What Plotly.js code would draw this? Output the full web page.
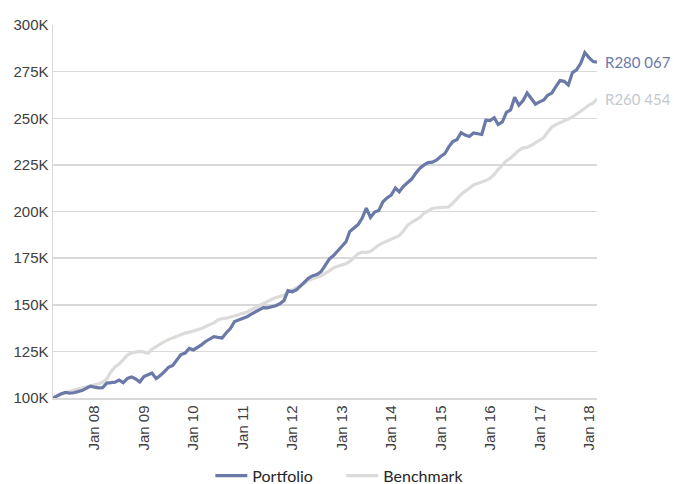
<!DOCTYPE html>
<html>
<head>
<meta charset="utf-8">
<script src="https://cdn.plot.ly/plotly-3.0.1.min.js"></script>
<style>html,body{margin:0;padding:0;background:#fff;}#chart{width:674px;height:484px;}</style>
</head>
<body>
<div id="chart"></div>
<script>
// Monthly series (month-end), first month Feb 2007, last month Feb 2018 (values in R thousands)
const startYear = 2007, startMonth = 2; // February 2007
const seriesNames = ["Portfolio", "Benchmark"];
const portfolio = [
100,101.2,102.3,103.0,102.6,102.8,103.5,104.0,105.2,106.3,105.8,105.4,105.5,108.0,108.2,108.5,109.6,108.2,110.5,111.3,
110.2,108.6,111.5,112.4,113.4,110.4,112.0,114.2,116.4,117.5,120.5,123.3,124.1,126.6,125.8,127.0,128.5,130.3,131.8,132.9,
132.5,132.2,135.0,137.2,141.0,141.8,142.6,143.5,144.8,146.0,147.5,148.5,148.3,148.8,149.5,150.5,152.3,157.6,157.0,158.0,
160.2,162.5,164.3,165.6,166.2,167.8,171.0,174.5,176.4,178.9,181.8,183.8,189.3,191.0,193.0,196.5,201.8,196.8,199.7,200.5,
205.2,207.3,208.8,212.6,210.6,213.5,215.5,217.4,220.5,223.2,225.0,226.2,226.5,227.5,229.5,231.0,234.5,237.5,238.5,242.3,
241.0,240.2,242.1,241.5,241.3,249.0,248.8,250.3,246.6,248.0,253.2,254.5,261.2,257.0,259.5,263.5,260.5,257.6,258.8,259.8,
262.3,263.5,267.0,270.2,269.8,267.8,274.5,275.9,279.5,285.2,282.5,280.4,280.067];
const benchmark = [
100,101.2,102.0,102.8,103.6,104.2,104.8,105.3,105.8,106.4,107.0,107.6,108.4,110.2,114.0,116.6,118.2,120.5,123.0,124.2,
124.6,125.0,124.6,124.0,126.2,127.6,129.2,130.2,131.3,132.2,133.4,134.2,134.8,135.3,135.9,136.5,137.2,138.3,139.2,140.3,
141.8,142.6,142.8,143.3,144.0,144.6,145.4,146.0,147.2,148.4,149.4,150.3,151.6,152.8,153.8,154.6,155.2,156.8,157.9,158.8,
160.2,161.5,163.1,164.0,164.8,165.5,166.8,168.3,169.8,170.6,171.3,172.0,173.2,175.2,177.4,178.2,178.0,178.6,180.5,182.0,
183.2,184.2,185.1,185.8,187.0,189.5,192.6,194.2,195.4,196.8,199.2,200.6,201.6,202.0,202.2,202.3,202.4,204.5,206.8,209.2,
210.8,212.5,214.2,215.0,215.7,216.6,217.8,219.8,222.5,225.2,227.2,228.7,230.8,232.8,234.1,234.4,235.5,237.0,238.5,239.6,
242.5,245.3,246.6,247.5,248.5,249.6,250.7,252.4,253.8,255.4,257.0,258.2,260.454];
const yTickVals = [100,125,150,175,200,225,250,275,300];
const yTickText = ["100K","125K","150K","175K","200K","225K","250K","275K","300K"];

function pad(n){return (n<10?"0":"")+n;}
const dates = portfolio.map((_, i) => {
  const d = new Date(Date.UTC(startYear, startMonth + i, 0)); // last day of month
  return d.getUTCFullYear() + "-" + pad(d.getUTCMonth() + 1) + "-" + pad(d.getUTCDate());
});
function rand(v){
  const s = String(Math.round(v*1000));
  return "R" + s.replace(/\B(?=(\d{3})+(?!\d))/g, " ");
}

const colors = ["#6a79a8", "#dddbd9"];
const labelColors = ["#6a79a8", "#c4c8d1"];
const allSeries = [portfolio, benchmark];

const traces = allSeries.map((s, k) => ({
  type: "scatter", mode: "lines", name: seriesNames[k],
  x: dates, y: s,
  line: {color: colors[k], width: 3.2}
}));
traces.reverse();

const last = dates.length - 1;
const annotations = allSeries.map((s, k) => ({
  x: dates[last], y: s[last], xref: "x", yref: "y",
  text: rand(s[last]), showarrow: false,
  xanchor: "left", yanchor: "middle", xshift: 6,
  font: {family: "Lato, 'Open Sans', sans-serif", size: 15, color: labelColors[k]}
}));

const layout = {
  width: 674, height: 484,
  margin: {l: 53, r: 77, t: 25, b: 86, autoexpand: false},
  paper_bgcolor: "#fff", plot_bgcolor: "#fff",
  showlegend: true,
  legend: {orientation: "h", x: 0.53, xanchor: "center", y: -0.163, yanchor: "top",
    traceorder: "reversed", entrywidth: 84, itemwidth: 32,
    font: {family: "Lato, 'Open Sans', sans-serif", size: 16, color: "#262626"}},
  xaxis: {
    type: "date", range: [dates[0], dates[last]],
    tick0: "2008-01-01", dtick: "M12", tickformat: "%b %y", tickangle: -90,
    showgrid: false, showline: true, linecolor: "#d9d9d9", linewidth: 1.5,
    ticks: "", zeroline: false, automargin: false,
    tickfont: {family: "'Liberation Sans', Arial, sans-serif", size: 15, color: "#404040"}
  },
  yaxis: {
    range: [100, 300], tickvals: yTickVals, ticktext: yTickText,
    showgrid: true, gridcolor: "#d9d9d9", gridwidth: 1.5,
    showline: true, linecolor: "#d9d9d9", linewidth: 1.5,
    ticks: "", zeroline: false, automargin: false,
    tickfont: {family: "'Liberation Sans', Arial, sans-serif", size: 15, color: "#404040"}
  },
  annotations: annotations
};

Plotly.newPlot("chart", traces, layout, {displayModeBar: false, staticPlot: true});
</script>
</body>
</html>
